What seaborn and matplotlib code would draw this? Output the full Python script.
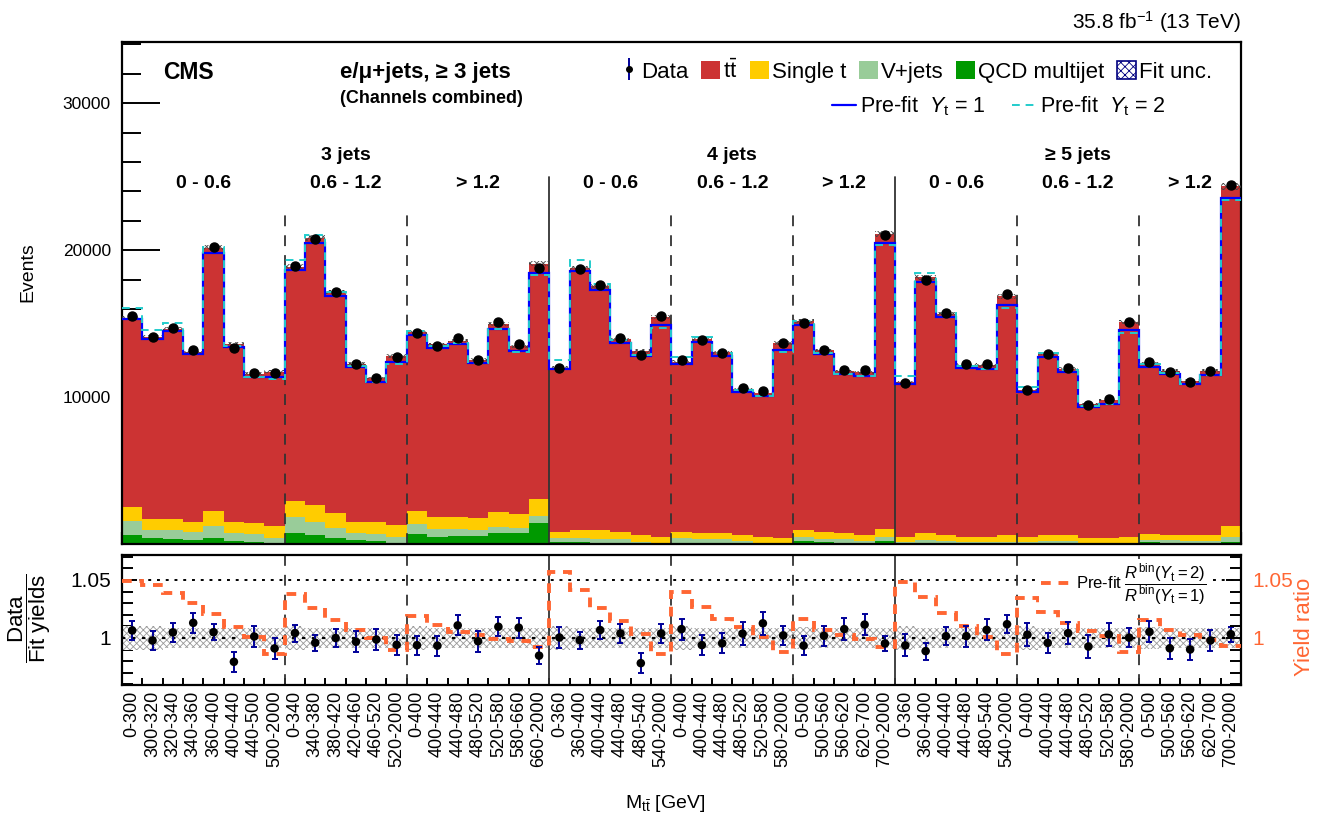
import matplotlib.pyplot as plt
import matplotlib.patches as patches
from matplotlib.lines import Line2D
from matplotlib.ticker import MultipleLocator, FixedLocator
import pandas as pd
import seaborn as sns
import numpy as np

# M_tt bin labels for each (jet multiplicity, |y| range) category
lab_3j_low = ['0-300', '300-320', '320-340', '340-360', '360-400', '400-440', '440-500', '500-2000']
lab_3j_mid = ['0-340', '340-380', '380-420', '420-460', '460-520', '520-2000']
lab_3j_high = ['0-400', '400-440', '440-480', '480-520', '520-580', '580-660', '660-2000']
lab_low = ['0-360', '360-400', '400-440', '440-480', '480-540', '540-2000']
lab_mid = ['0-400', '400-440', '440-480', '480-520', '520-580', '580-2000']
lab_high = ['0-500', '500-560', '560-620', '620-700', '700-2000']
mass_labels = lab_3j_low + lab_3j_mid + lab_3j_high + lab_low + lab_mid + lab_high + lab_low + lab_mid + lab_high
group_sizes = [len(lab_3j_low), len(lab_3j_mid), len(lab_3j_high),
               len(lab_low), len(lab_mid), len(lab_high),
               len(lab_low), len(lab_mid), len(lab_high)]
rap_labels = ['0 - 0.6', '0.6 - 1.2', '> 1.2'] * 3
jet_labels = ['3 jets', '4 jets', '\u2265 5 jets']

# event yields
data = [15490, 14060, 14690, 13220, 20250, 13360, 11610, 11610,
        18930, 20750, 17165, 12220, 11290, 12720,
        14350, 13510, 13990, 12520, 15100, 13580, 18780,
        11995, 18750, 17660, 13990, 12860, 15510,
        12495, 13855, 12990, 10590, 10410, 13700,
        15060, 13200, 11840, 11840, 21020,
        10930, 17960, 15690, 12220, 12245, 17050,
        10500, 12925, 11970, 9430, 9840, 15125,
        12360, 11700, 11000, 11770, 24420]
ttbar = [12900, 12390, 12920, 11530, 17880, 12120, 10190, 10490,
         15900, 18160, 15080, 10740, 9830, 11480,
         12170, 11740, 11980, 10810, 12800, 11420, 16030,
         11140, 17820, 16620, 13130, 12520, 14940,
         11550, 13180, 12310, 9970, 9770, 13230,
         14240, 12370, 11010, 11060, 20090,
         10490, 17430, 15020, 11690, 11650, 16270,
         9960, 12400, 11340, 9080, 9390, 14610,
         11600, 11180, 10530, 11170, 23130]
single_t = [925, 750, 750, 680, 1020, 795, 725, 840,
            1135, 1155, 1020, 795, 795, 860,
            910, 860, 860, 795, 1020, 930, 1135,
            455, 570, 570, 465, 455, 410,
            455, 420, 420, 380, 410, 380,
            455, 455, 420, 445, 565,
            340, 495, 445, 340, 340, 410,
            340, 400, 400, 320, 320, 410,
            390, 385, 380, 425, 745]
vjets = [955, 565, 635, 570, 820, 500, 520, 335,
         1045, 910, 635, 455, 455, 405,
         705, 500, 455, 405, 410, 385, 500,
         275, 275, 270, 260, 120, 60,
         295, 260, 240, 150, 60, 40,
         275, 230, 240, 150, 255,
         120, 160, 140, 120, 120, 120,
         120, 130, 130, 70, 70, 70,
         185, 160, 140, 140, 345]
qcd = [610, 385, 315, 270, 430, 225, 160, 50,
       770, 610, 430, 270, 225, 50,
       655, 500, 545, 545, 725, 725, 1405,
       120, 120, 80, 80, 50, 40,
       100, 80, 80, 50, 40, 20,
       190, 120, 80, 50, 210,
       50, 80, 60, 50, 50, 50,
       50, 50, 50, 30, 30, 30,
       120, 80, 60, 60, 120]
prefit_y1 = [15330, 13925, 14470, 12900, 19840, 13380, 11380, 11400,
             18640, 20520, 16890, 12060, 11040, 12360,
             14220, 13350, 13580, 12290, 14625, 13130, 18460,
             11880, 18570, 17280, 13700, 12810, 14940,
             12220, 13720, 12810, 10360, 10070, 13220,
             14900, 12900, 11540, 11450, 20500,
             10880, 17840, 15420, 11990, 11900, 16300,
             10320, 12740, 11680, 9340, 9520, 14560,
             12060, 11560, 10880, 11500, 23560]
# pre-fit R(Yt=2)/R(Yt=1)
yield_ratio = [1.049, 1.046, 1.0385, 1.0305, 1.0204, 1.0092, 1.0006, 0.986,
               1.0377, 1.0256, 1.0155, 1.0069, 0.9997, 0.9897,
               1.0192, 1.0112, 1.0055, 1.0026, 0.9991, 0.9977, 0.9925,
               1.0566, 1.0414, 1.0256, 1.0147, 1.0032, 0.986,
               1.0394, 1.0264, 1.0167, 1.0092, 1.0011, 0.9877,
               1.0167, 1.0069, 1.003, 0.9989, 0.9925,
               1.048, 1.0356, 1.0218, 1.0103, 1.0006, 0.986,
               1.0342, 1.0227, 1.0132, 1.0063, 1.0017, 0.9877,
               1.0155, 1.0069, 1.0023, 0.9983, 0.9931]
# relative fit uncertainty
fit_unc = [0.0105, 0.0100, 0.0085, 0.0085, 0.0085, 0.0085, 0.0085, 0.0085,
           0.0100, 0.0090, 0.0085, 0.0085, 0.0085, 0.0090,
           0.0100, 0.0085, 0.0085, 0.0085, 0.0085, 0.0085, 0.0090,
           0.0100, 0.0090, 0.0085, 0.0085, 0.0085, 0.0090,
           0.0100, 0.0085, 0.0085, 0.0085, 0.0085, 0.0090,
           0.0095, 0.0085, 0.0085, 0.0085, 0.0090,
           0.0105, 0.0090, 0.0085, 0.0085, 0.0085, 0.0090,
           0.0100, 0.0085, 0.0085, 0.0085, 0.0085, 0.0090,
           0.0095, 0.0085, 0.0085, 0.0085, 0.0090]

c_tt, c_st, c_vj, c_qcd = '#cc3333', '#ffcc00', '#99cc99', '#009900'
c_blue, c_cyan, c_orange, c_err = '#0000ff', '#22cccc', '#ff6633', '#000099'

sns.set_style('ticks')
plt.rcParams['font.family'] = ['Liberation Sans', 'DejaVu Sans']
plt.rcParams['mathtext.fontset'] = 'custom'
plt.rcParams['mathtext.rm'] = 'Liberation Sans'
plt.rcParams['mathtext.it'] = 'Liberation Sans:italic'
plt.rcParams['mathtext.bf'] = 'Liberation Sans:bold'
plt.rcParams['hatch.linewidth'] = 0.6
plt.rcParams.update({'text.color': 'black', 'axes.labelcolor': 'black', 'xtick.color': 'black',
                     'ytick.color': 'black', 'axes.edgecolor': 'black'})

W, H = 1325, 821
def fx(x):
    return x / W
def fy(y):
    return 1 - y / H

nb = len(mass_labels)
edges = np.arange(nb + 1)
centers = edges[:-1] + 0.5
bounds = np.cumsum(group_sizes)
starts = np.concatenate([[0], bounds[:-1]])

data = np.array(data, dtype=float)
fit_total = np.array(ttbar) + np.array(single_t) + np.array(vjets) + np.array(qcd)
prefit_y1 = np.array(prefit_y1, dtype=float)
yield_ratio = np.array(yield_ratio)
fit_unc = np.array(fit_unc)

df = pd.DataFrame({
    'x': np.tile(centers, 4),
    'yield': np.concatenate([ttbar, single_t, vjets, qcd]).astype(float),
    'process': ['tt'] * nb + ['st'] * nb + ['vj'] * nb + ['qcd'] * nb,
})

fig = plt.figure(figsize=(W / 100, H / 100), dpi=100)
ax = fig.add_axes([fx(122), fy(544), fx(1241) - fx(122), fy(42) - fy(544)])
axr = fig.add_axes([fx(122), fy(685), fx(1241) - fx(122), fy(555) - fy(685)])

# stacked fit yields
sns.histplot(df, x='x', weights='yield', hue='process', hue_order=['tt', 'st', 'vj', 'qcd'],
             multiple='stack', bins=nb, binrange=(0, nb), element='step', alpha=1, linewidth=0,
             palette={'tt': c_tt, 'st': c_st, 'vj': c_vj, 'qcd': c_qcd}, legend=False, ax=ax)
ax.stairs(fit_total * (1 + fit_unc), edges, baseline=fit_total * (1 - fit_unc), fill=True,
          facecolor='none', edgecolor='#444444', hatch='xxxxx', linewidth=0, zorder=3)
ax.stairs(prefit_y1, edges, baseline=None, color=c_blue, lw=1.6, zorder=4)
ax.stairs(prefit_y1 * yield_ratio, edges, baseline=None, color=c_cyan, lw=1.4,
          linestyle=(0, (4, 3)), zorder=5)
ax.errorbar(centers, data, yerr=np.sqrt(data), fmt='o', color='black', ms=6.5,
            mec='black', ecolor=c_err, elinewidth=1.2, zorder=6)

for b in bounds[:-1]:
    if b in (bounds[2], bounds[5]):
        ax.plot([b, b], [0, 25000], color='#333333', lw=1.3, zorder=2.5)
    else:
        ax.plot([b, b], [0, 22700], color='#333333', lw=1.3, ls=(0, (6, 5)), zorder=2.5)

for s, b, lab in zip(starts, bounds, rap_labels):
    ax.text((s + b) / 2, 24560, lab, ha='center', va='center', fontsize=14, fontweight='bold')
for k, lab in enumerate(jet_labels):
    s, b = starts[3 * k + 1], bounds[3 * k + 1]
    ax.text((s + b) / 2, 26460, lab, ha='center', va='center', fontsize=14, fontweight='bold')

ax.set_xlim(0, nb)
ax.set_ylim(0, 34170)
ax.set_xlabel('')
ax.set_ylabel('')
ax.set_xticks([])
ax.xaxis.set_minor_locator(FixedLocator(edges))
ax.yaxis.set_major_locator(FixedLocator([10000, 20000, 30000]))
ax.yaxis.set_minor_locator(MultipleLocator(2000))
ax.tick_params(axis='y', which='major', direction='in', length=27, width=1.4, labelsize=12.5, pad=8)
ax.tick_params(axis='y', which='minor', direction='in', length=13.5, width=1.4)
ax.tick_params(axis='x', which='minor', direction='in', length=9, width=1.6, bottom=True, top=False)
for sp in ax.spines.values():
    sp.set_linewidth(1.6)

ax.text(0.0366, 0.94, 'CMS', transform=ax.transAxes, ha='left', va='center', fontsize=16.5, fontweight='bold')
ax.text(0.195, 0.94, 'e/\u03bc+jets, \u2265 3 jets', transform=ax.transAxes, ha='left', va='center',
        fontsize=16, fontweight='bold')
ax.text(0.195, 0.887, '(Channels combined)', transform=ax.transAxes, ha='left', va='center',
        fontsize=13, fontweight='bold')

h_data = ax.errorbar([], [], yerr=[], fmt='o', color='black', ms=4, ecolor=c_err, elinewidth=1.4)
h_patches = [patches.Patch(facecolor=c, edgecolor='none') for c in (c_tt, c_st, c_vj, c_qcd)]
h_unc = patches.Patch(facecolor='white', edgecolor='#000080', hatch='xxxx', linewidth=1.2)
leg1 = ax.legend([h_data] + h_patches + [h_unc],
                 ['Data', r'$\mathrm{t\bar{t}}$', 'Single t', 'V+jets', 'QCD multijet', 'Fit unc.'],
                 ncol=6, loc='center right', bbox_to_anchor=(0.992, 0.942), frameon=False, fontsize=16,
                 handlelength=0.85, handleheight=0.9, handletextpad=0.15, columnspacing=0.55)
ax.add_artist(leg1)
h_l1 = Line2D([], [], color=c_blue, lw=1.6)
h_l2 = Line2D([], [], color=c_cyan, lw=1.4, ls=(0, (4, 3)))
ax.legend([h_l1, h_l2], [r'Pre-fit  $Y_{\mathrm{t}}$ = 1', r'Pre-fit  $Y_{\mathrm{t}}$ = 2'],
          ncol=2, loc='center right', bbox_to_anchor=(0.95, 0.8725), frameon=False, fontsize=15.5,
          handlelength=1.1, handletextpad=0.2, columnspacing=1.2)

# ratio panel
ratio = data / fit_total
ratio_err = np.sqrt(data) / fit_total
axr.stairs(1 + fit_unc, edges, baseline=1 - fit_unc, fill=True, facecolor='white',
           edgecolor='#999999', hatch='xxxxx', linewidth=0, zorder=1)
axr.axhline(1.0, color='black', ls=(0, (1.5, 3)), lw=1.6, zorder=2)
axr.plot([0, 45.1], [1.05, 1.05], color='black', ls=(0, (1.5, 3)), lw=1.4, zorder=2)
axr.plot([53.6, nb], [1.05, 1.05], color='black', ls=(0, (1.5, 3)), lw=1.4, zorder=2)
axr.stairs(yield_ratio, edges, baseline=None, color=c_orange, lw=2.8, linestyle=(0, (2.5, 2)), zorder=3)
axr.errorbar(centers, ratio, yerr=ratio_err, fmt='none', ecolor=c_err, elinewidth=1.4,
             capsize=2.5, capthick=1.4, zorder=4)
sns.scatterplot(x=centers, y=ratio, color='black', s=38, edgecolor='none', zorder=5, ax=axr)
for b in bounds[:-1]:
    if b in (bounds[2], bounds[5]):
        axr.axvline(b, color='#333333', lw=1.3, zorder=2.5)
    else:
        axr.axvline(b, color='#333333', lw=1.3, ls=(0, (6, 5)), zorder=2.5)

axr.set_xlim(0, nb)
axr.set_ylim(0.9595, 1.0715)
axr.set_xticks(centers)
axr.set_xticklabels(mass_labels, rotation=90, fontsize=13)
axr.xaxis.set_minor_locator(FixedLocator(edges))
axr.tick_params(axis='x', which='major', length=0, pad=4)
axr.tick_params(axis='x', which='minor', direction='in', length=5, width=1.4)
axr.yaxis.set_major_locator(FixedLocator([1.0, 1.05]))
axr.set_yticklabels(['1', '1.05'])
axr.yaxis.set_minor_locator(MultipleLocator(0.01))
axr.tick_params(axis='y', which='major', direction='in', length=11, width=1.4, labelsize=15, pad=8)
axr.tick_params(axis='y', which='minor', direction='in', length=8, width=1.4)
for sp in axr.spines.values():
    sp.set_linewidth(1.6)

axr2 = axr.twinx()
axr2.set_ylim(axr.get_ylim())
axr2.yaxis.set_major_locator(FixedLocator([1.0, 1.05]))
axr2.set_yticklabels(['1', '1.05'])
axr2.yaxis.set_minor_locator(MultipleLocator(0.01))
axr2.tick_params(axis='y', which='major', direction='in', length=11, width=1.4, labelsize=15,
                 labelcolor=c_orange, pad=8)
axr2.tick_params(axis='y', which='minor', direction='in', length=8, width=1.4)
for sp in axr2.spines.values():
    sp.set_visible(False)

h_r = Line2D([], [], color=c_orange, lw=2.8, ls=(0, (2.5, 2)))
axr2.legend([h_r], [r'Pre-fit $\dfrac{R^{\mathrm{bin}}(Y_{\mathrm{t}}=2)}{R^{\mathrm{bin}}(Y_{\mathrm{t}}=1)}$'],
            loc='center right', bbox_to_anchor=(0.978, 0.78), frameon=True, fancybox=False,
            facecolor='white', edgecolor='none', framealpha=1, fontsize=12,
            handlelength=1.8, handletextpad=0.3, borderpad=0.1)

# labels
fig.text(fx(28), fy(272), 'Events', rotation=90, ha='center', va='center', fontsize=14)
fig.text(fx(30), fy(618), r'$\dfrac{\mathrm{Data}}{\mathrm{Fit\ yields}}$', rotation=90,
         ha='center', va='center', fontsize=16)
fig.text(fx(1305), fy(627), 'Yield ratio', rotation=90, ha='center', va='center', fontsize=16,
         color=c_orange)
fig.text(fx(665), fy(803), r'M$_{\mathrm{t\bar{t}}}$ [GeV]', ha='center', va='center', fontsize=14)
fig.text(fx(1241), fy(22), r'35.8 fb$^{-1}$ (13 TeV)', ha='right', va='center', fontsize=15)

fig.savefig('out.png', dpi=100)
